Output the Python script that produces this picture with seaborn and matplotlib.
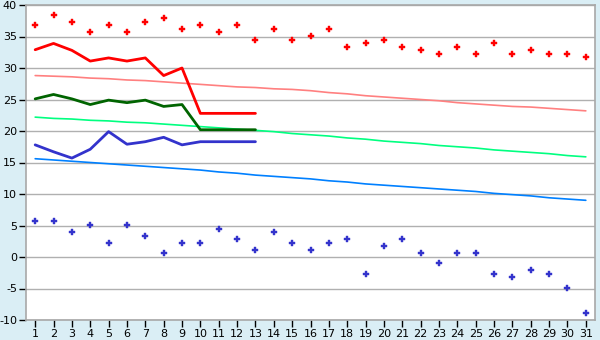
import matplotlib
matplotlib.use("Agg")
import matplotlib.pyplot as plt
import seaborn as sns
import pandas as pd

days = list(range(1, 32))

record_max = [36.8, 38.4, 37.3, 35.7, 36.8, 35.7, 37.3, 38.0, 36.2, 36.8, 35.7, 36.8, 34.4, 36.2, 34.4,
              35.1, 36.2, 33.3, 34.0, 34.4, 33.3, 32.9, 32.2, 33.3, 32.2, 34.0, 32.2, 32.9, 32.2, 32.2, 31.7]
record_min = [5.7, 5.7, 4.0, 5.1, 2.2, 5.1, 3.3, 0.6, 2.2, 2.2, 4.4, 2.9, 1.1, 4.0, 2.2,
              1.1, 2.2, 2.9, -2.7, 1.7, 2.9, 0.6, -1.0, 0.6, 0.6, -2.7, -3.2, -2.1, -2.7, -4.9, -8.9]

obs_days = list(range(1, 14))
obs_max = [32.9, 33.9, 32.8, 31.1, 31.6, 31.1, 31.6, 28.8, 30.0, 22.8, 22.8, 22.8, 22.8]
obs_mean = [25.1, 25.8, 25.1, 24.2, 24.9, 24.5, 24.9, 23.9, 24.2, 20.2, 20.2, 20.2, 20.2]
obs_min = [17.8, 16.7, 15.7, 17.1, 19.9, 17.9, 18.3, 19.0, 17.8, 18.3, 18.3, 18.3, 18.3]

normal_max = [28.8, 28.7, 28.6, 28.4, 28.3, 28.1, 28.0, 27.8, 27.6, 27.4, 27.2, 27.0, 26.9, 26.7, 26.6,
              26.4, 26.1, 25.9, 25.6, 25.4, 25.2, 25.0, 24.8, 24.5, 24.3, 24.1, 23.9, 23.8, 23.6, 23.4, 23.2]
normal_mean = [22.2, 22.0, 21.9, 21.7, 21.6, 21.4, 21.3, 21.1, 20.9, 20.7, 20.5, 20.3, 20.1, 19.9, 19.6,
               19.4, 19.2, 18.9, 18.7, 18.4, 18.2, 18.0, 17.7, 17.5, 17.3, 17.0, 16.8, 16.6, 16.4, 16.1, 15.9]
normal_min = [15.6, 15.4, 15.2, 15.0, 14.8, 14.6, 14.4, 14.2, 14.0, 13.8, 13.5, 13.3, 13.0, 12.8, 12.6,
              12.4, 12.1, 11.9, 11.6, 11.4, 11.2, 11.0, 10.8, 10.6, 10.4, 10.1, 9.9, 9.7, 9.4, 9.2, 9.0]

y_ticks = [-10, -5, 0, 5, 10, 15, 20, 25, 30, 35, 40]

sns.set_theme(style="white")
plt.rcParams['font.family'] = ['DejaVu Sans']

fig = plt.figure(figsize=(6, 3.4), dpi=100)
fig.patch.set_facecolor("#daeef5")
ax = fig.add_axes([26 / 600, 20 / 340, 569 / 600, 315 / 340])
ax.set_facecolor("white")

full = pd.DataFrame({"day": days, "nmax": normal_max, "nmean": normal_mean, "nmin": normal_min,
                     "rmax": record_max, "rmin": record_min})
obs = pd.DataFrame({"day": obs_days, "max": obs_max, "mean": obs_mean, "min": obs_min})

sns.lineplot(data=full, x="day", y="nmax", color="#ff8080", lw=1.2, ax=ax)
sns.lineplot(data=full, x="day", y="nmean", color="#00ff80", lw=1.2, ax=ax)
sns.lineplot(data=full, x="day", y="nmin", color="#0080ff", lw=1.2, ax=ax)

sns.lineplot(data=obs, x="day", y="max", color="#ff0000", lw=2.0, ax=ax)
sns.lineplot(data=obs, x="day", y="mean", color="#006400", lw=2.0, ax=ax)
sns.lineplot(data=obs, x="day", y="min", color="#3333cc", lw=2.0, ax=ax)

sns.scatterplot(data=full, x="day", y="rmax", color="#ff0000", marker="P", s=20,
                edgecolor="#ff0000", linewidth=0.3, ax=ax)
sns.scatterplot(data=full, x="day", y="rmin", color="#3333cc", marker="P", s=20,
                edgecolor="#3333cc", linewidth=0.3, ax=ax)

ax.set_xlim(0.5, 31.5)
ax.set_ylim(-10, 40)
ax.set_xticks(days)
ax.set_xticklabels([str(d) for d in days], fontsize=8)
ax.set_yticks(y_ticks)
ax.set_yticklabels([str(v) for v in y_ticks], fontsize=8)
ax.yaxis.grid(True, color="#b0b0b0", lw=1)
ax.set_axisbelow(True)
ax.set_xlabel("")
ax.set_ylabel("")
for s in ax.spines.values():
    s.set_color("#a8a8a8")
    s.set_linewidth(1.2)
ax.tick_params(axis="both", length=5, width=1, color="#000000", pad=1.5, direction="out", labelcolor="black")
ax.tick_params(axis="x", bottom=True)
ax.tick_params(axis="y", left=True)

fig.savefig("out.png", dpi=100, facecolor=fig.get_facecolor())
